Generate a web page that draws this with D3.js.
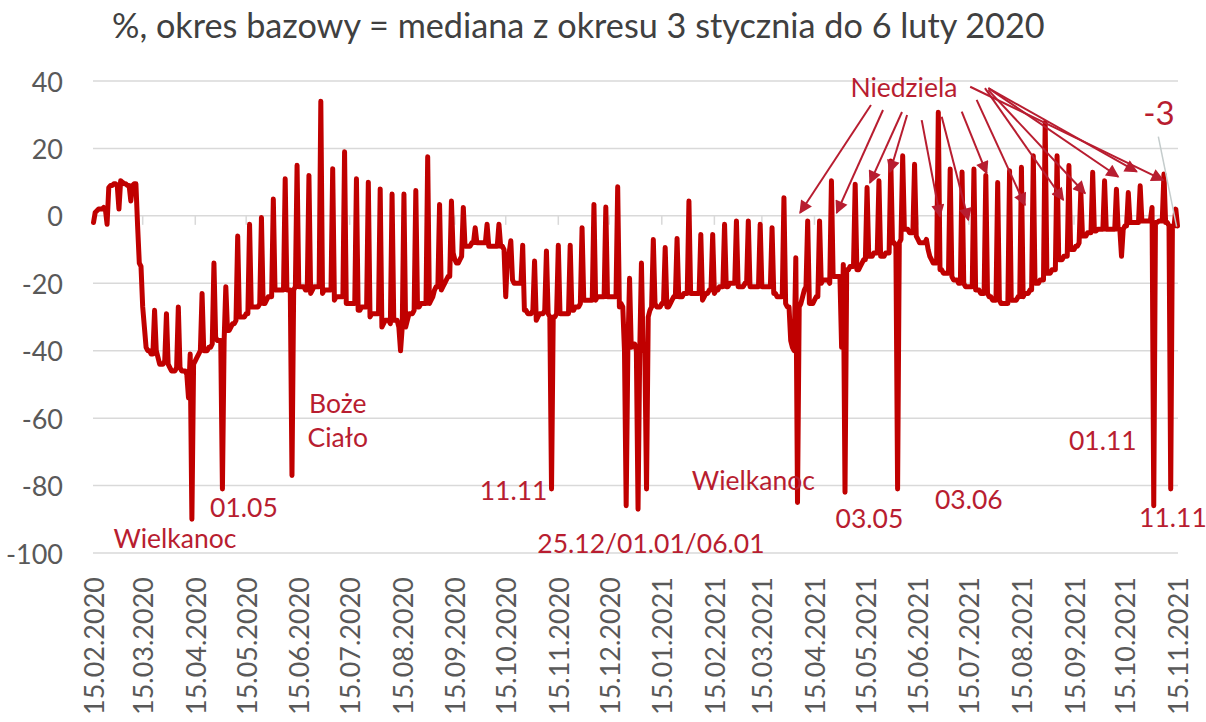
<!DOCTYPE html>
<html><head><meta charset="utf-8">
<script src="https://cdn.jsdelivr.net/npm/d3@7"></script>
<style>body{margin:0;background:#fff}svg{display:block}</style>
</head><body>
<svg id="c" width="1206" height="722"></svg>
<script>
const titleText = "%, okres bazowy = mediana z okresu 3 stycznia do 6 luty 2020";
const startDate = "2020-02-15";   // first day of the series (Saturday)
const tickLabels = ["15.02.2020","15.03.2020","15.04.2020","15.05.2020","15.06.2020","15.07.2020",
  "15.08.2020","15.09.2020","15.10.2020","15.11.2020","15.12.2020","15.01.2021","15.02.2021",
  "15.03.2021","15.04.2021","15.05.2021","15.06.2021","15.07.2021","15.08.2021","15.09.2021",
  "15.10.2021","15.11.2021"];
const yTicks = [40, 20, 0, -20, -40, -60, -80, -100];

// daily values, %, one row per week (Sun..Sat); first value = Sat 15.02.2020
const values = [
  -2,
  1, 1.5, 2, 2, 2, 2.5, 2,
  -2.5, 8.4, 9, 9, 9.5, 9.5, 9,
  2, 10.4, 10, 9.5, 9.5, 9, 9,
  4.4, 9, 9.5, 9.5, -3, -14, -15,
  -27, -33, -39, -40, -40, -41, -41,
  -28, -40, -42, -44, -44, -44, -43,
  -29, -44, -45, -46, -46, -46, -45,
  -27, -45, -46, -46, -46, -47, -54,
  -41, -90, -44, -43, -42, -41, -40,
  -23, -40, -40, -40, -39, -39, -38,
  -14, -36, -37, -37, -37, -81, -37,
  -21, -34, -34, -33, -32, -32, -31,
  -6, -30, -30, -30, -30, -29, -29,
  -2.5, -27, -27, -27, -27, -27, -26,
  -0.5, -26, -26, -25, -24, -24, -24,
  5, -22, -22, -22, -22, -22, -22,
  11, -22, -22, -22, -77, -22, -21,
  15, -21, -21, -21, -21, -22, -22,
  12, -23, -22, -21, -21, -21, -21,
  34, -23, -22, -22, -22, -22, -22,
  14, -25, -24, -24, -24, -24, -24,
  19, -26, -26, -26, -26, -26, -26,
  11, -28, -28, -27, -27, -27, -27,
  10, -30, -29, -29, -29, -29, -29,
  8, -33, -32, -31, -31, -31, -32,
  6.5, -31, -31, -31, -33, -40, -33,
  6.5, -33, -31, -29, -29, -29, -28,
  7.5, -27, -27, -26, -26, -26, -26,
  17.5, -26, -25, -24, -22, -21, -21,
  3.4, -22, -21, -20, -19, -18, -18,
  4.4, -11, -13, -14, -14, -13, -12,
  2.5, -9, -9, -9, -9, -8, -8,
  -3.5, -8, -8, -8, -8, -8, -8,
  -2.5, -9, -9, -9, -9, -9, -9,
  -2.5, -9, -9, -10, -24, -12, -11,
  -7.4, -19, -20, -20, -20, -20, -20,
  -8.7, -28, -28, -29, -29, -29, -28,
  -13.4, -31, -30, -29, -29, -29, -28,
  -10.4, -29, -30, -81, -30, -30, -29,
  -8.7, -29, -29, -29, -29, -29, -29,
  -8.7, -28, -28, -27, -27, -27, -26,
  -3.5, -25, -25, -25, -25, -25, -25,
  3.4, -25, -24, -24, -24, -24, -24,
  2.6, -24, -24, -24, -24, -24, -24,
  8.6, -27, -26, -27, -40, -86, -40,
  -18.5, -39, -38, -38, -40, -87, -40,
  -14, -40, -40, -81, -30, -28, -27,
  -7, -26, -27, -27, -27, -26, -26,
  -9.4, -27, -27, -26, -25, -24, -24,
  -6.7, -24, -24, -24, -23, -23, -23,
  4.4, -23, -23, -23, -23, -23, -23,
  -5.5, -25, -24, -23, -23, -22, -22,
  -5.5, -23, -22, -22, -21, -21, -21,
  -2.5, -21, -21, -20, -20, -20, -20,
  -1.5, -21, -21, -21, -21, -20, -20,
  -1.5, -21, -21, -21, -21, -21, -21,
  -2.5, -21, -21, -21, -21, -21, -21,
  -3.5, -23, -23, -24, -24, -24, -24,
  5.4, -26, -27, -27, -37, -39, -40,
  -12.4, -85, -27, -26, -24, -22, -21,
  -1.5, -26, -26, -26, -25, -24, -24,
  -1.5, -20, -19, -19, -19, -19, -20,
  10.4, -18, -18, -18, -18, -18, -39,
  -14.4, -82, -16, -16, -15, -15, -15,
  9.4, -16, -16, -15, -14, -13, -13,
  8.4, -12, -12, -12, -11, -11, -11,
  10.4, -12, -12, -12, -11, -11, -11,
  16.3, -8, -8, -9, -81, -8, -7,
  17.8, -4, -4, -4, -5, -5, -5,
  15.3, -6, -7, -8, -8, -8, -8,
  -7, -10, -12, -13, -14, -14, -14,
  30.7, -16, -16, -17, -17, -17, -17,
  13.9, -18, -19, -19, -19, -20, -20,
  13, -20, -21, -21, -21, -21, -21,
  13.9, -22, -22, -22, -23, -23, -23,
  12, -23, -24, -24, -25, -25, -25,
  9.9, -25, -26, -26, -26, -26, -26,
  13.4, -25, -25, -25, -25, -24, -24,
  14.4, -24, -23, -23, -23, -22, -22,
  17.8, -20, -20, -20, -19, -19, -19,
  27.7, -17, -17, -17, -16, -16, -16,
  17.8, -13, -13, -13, -12, -12, -12,
  14.9, -10, -10, -10, -9, -9, -8,
  7.4, -6, -6, -6, -5, -5, -5,
  12.9, -4.5, -4.5, -4, -4, -4, -4,
  10.4, -4, -4, -4, -4, -4, -4,
  7.9, -4, -4, -12, -4, -3, -3,
  6.9, -2, -2, -2, -2, -2, -2,
  8.9, -1.5, -1.5, -1.5, -1.5, -1.5, -1.5,
  2.5, -86, -2, -2, -1.5, -1.5, -1.5,
  12.4, -2, -2, -3, -81, -3, -3,
  2, -3
];

// annotation texts: position given as (day index, value)
const noteTexts = ["Wielkanoc", "01.05", "Boże", "Ciało", "11.11", "25.12/01.01/06.01",
                   "Wielkanoc", "03.05", "03.06", "01.11", "11.11", "Niedziela"];
const noteDays =   [48, 88.7, 144, 144, 247.6, 328.6, 389, 457.4, 516, 595, 636.3, 477.7];
const noteValues = [-95.6, -86.4, -55.5, -65.6, -81.3, -97, -78.3, -89.7, -84, -66.5, -89.3, 38.2];

// "Niedziela" arrows: from (day, value) to (day, value)
const arrowFromDay = [458.3, 465.4, 476.6, 479.6, 488.2, 500, 511.8, 520.6, 525.5, 527.5, 527.5, 527.5, 516.8];
const arrowFromVal = [32.9, 31.4, 30.8, 29.9, 28.4, 29.4, 30.9, 34.4, 37.9, 37.3, 37.9, 37.9, 38.3];
const arrowToDay   = [416.5, 438.1, 457.7, 469.5, 499, 515.7, 526.5, 549.1, 571.7, 584.5, 604.1, 615, 630.6];
const arrowToVal   = [0.9, 0.9, 9.8, 13.0, -0.2, -1.2, 12.6, 3.2, 4.7, 6.7, 11.6, 13.1, 10.6];

// last value label with leader line
const lastLabel = "-3";
const lastLabelPos = [628, 30.8];
const leaderFrom = [627.7, 23.5];
const leaderTo = [638.5, -3.2];

const svg = d3.select("#c");
const FONT = "Lato, 'Open Sans', sans-serif";
const parse = d3.utcParse("%Y-%m-%d");
const parseTick = d3.utcParse("%d.%m.%Y");
const t0 = parse(startDate);
const dates = values.map((v, i) => d3.utcDay.offset(t0, i));

const x = d3.scaleUtc().domain([t0, dates[dates.length - 1]]).range([93.5, 1177.5]);
const y = d3.scaleLinear().domain([-100, 40]).range([553, 81]);
const xd = d => x(t0) + (x(d3.utcDay.offset(t0, 1)) - x(t0)) * d;

// gridlines
svg.append("g").selectAll("line").data(yTicks).join("line")
  .attr("x1", 93).attr("x2", 1178).attr("y1", d => y(d)).attr("y2", d => y(d))
  .attr("stroke", "#d9d9d9").attr("stroke-width", 1.5);

// y labels
svg.append("g").selectAll("text").data(yTicks).join("text")
  .attr("x", 63).attr("y", d => y(d)).attr("text-anchor", "end").attr("dominant-baseline", "central")
  .attr("font-family", FONT).attr("font-size", 27).attr("fill", "#595959").text(d => d);

// x axis ticks at the 0 line
const tickDates = tickLabels.map(parseTick);
svg.append("g").selectAll("line").data(tickDates).join("line")
  .attr("x1", d => x(d)).attr("x2", d => x(d)).attr("y1", y(0)).attr("y2", y(0) + 9)
  .attr("stroke", "#d9d9d9").attr("stroke-width", 1.5);

// x labels
svg.append("g").selectAll("text").data(tickLabels).join("text")
  .attr("transform", (d, i) => `translate(${x(tickDates[i])},577) rotate(-90)`)
  .attr("text-anchor", "end").attr("dominant-baseline", "central")
  .attr("font-family", FONT).attr("font-size", 27).attr("fill", "#595959").text(d => d);

// data line
const line = d3.line().x((v, i) => x(dates[i])).y(v => y(v));
svg.append("path").datum(values).attr("d", line)
  .attr("fill", "none").attr("stroke", "#c00000").attr("stroke-width", 5)
  .attr("stroke-linejoin", "round").attr("stroke-linecap", "round");

// title
const title = svg.append("text").attr("x", 112).attr("y", 38)
  .attr("font-family", FONT).attr("font-size", 28).attr("fill", "#404040").text(titleText);
const tw = title.node().getComputedTextLength();
title.attr("font-size", 28 * 933 / tw);

// arrows
const ARROW = "#b81d30";
svg.append("defs").append("marker").attr("id", "ah").attr("viewBox", "0 0 10 10")
  .attr("refX", 9).attr("refY", 5).attr("markerWidth", 15).attr("markerHeight", 13)
  .attr("markerUnits", "userSpaceOnUse").attr("orient", "auto")
  .append("path").attr("d", "M0,0 L10,5 L0,10 z").attr("fill", ARROW);
svg.append("g").selectAll("line").data(arrowFromDay).join("line")
  .attr("x1", (d, i) => xd(d)).attr("y1", (d, i) => y(arrowFromVal[i]))
  .attr("x2", (d, i) => xd(arrowToDay[i])).attr("y2", (d, i) => y(arrowToVal[i]))
  .attr("stroke", ARROW).attr("stroke-width", 2).attr("marker-end", "url(#ah)");

// annotation texts
svg.append("g").selectAll("text").data(noteTexts).join("text")
  .attr("x", (d, i) => xd(noteDays[i])).attr("y", (d, i) => y(noteValues[i]))
  .attr("text-anchor", "middle").attr("dominant-baseline", "central")
  .attr("font-family", FONT).attr("font-size", 26.5).attr("fill", ARROW).text(d => d);

// last label
svg.append("line").attr("x1", xd(leaderFrom[0])).attr("y1", y(leaderFrom[1]))
  .attr("x2", xd(leaderTo[0])).attr("y2", y(leaderTo[1]))
  .attr("stroke", "#c4cccc").attr("stroke-width", 1.5);
svg.append("text").attr("x", xd(lastLabelPos[0])).attr("y", y(lastLabelPos[1]))
  .attr("text-anchor", "middle").attr("dominant-baseline", "central")
  .attr("font-family", FONT).attr("font-size", 33).attr("fill", ARROW).text(lastLabel);
</script>
</body></html>
